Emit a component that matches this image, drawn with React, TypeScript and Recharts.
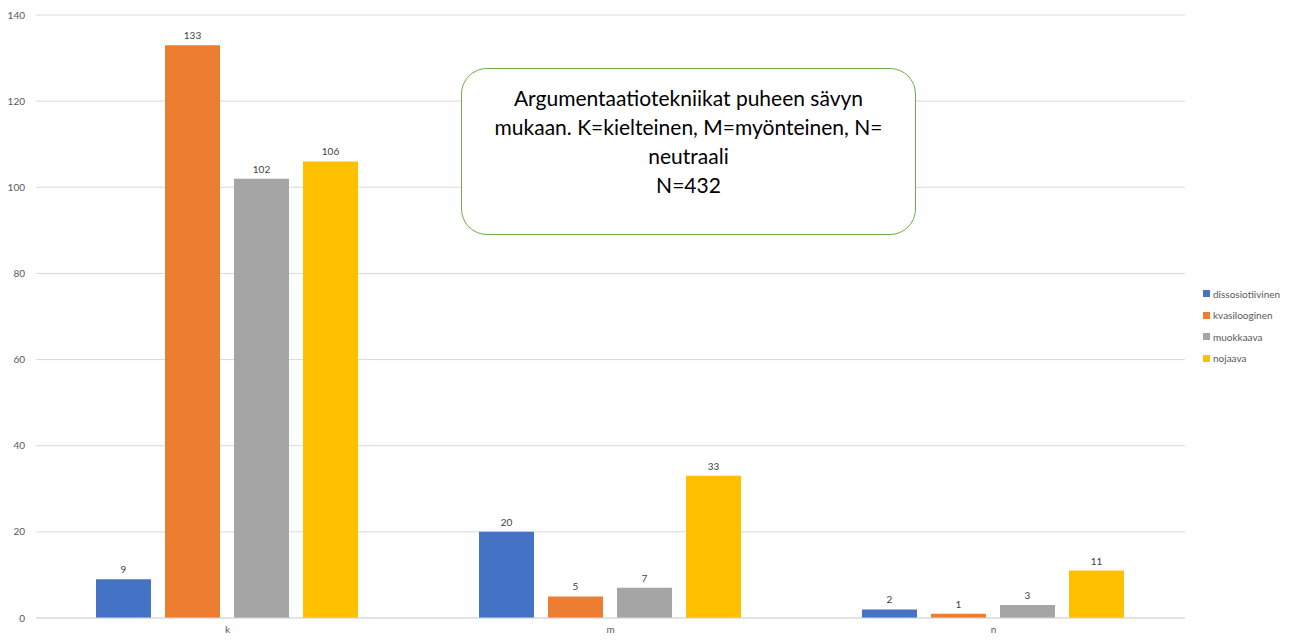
import { Bar, BarChart, CartesianGrid, LabelList, XAxis, YAxis } from 'recharts'

const categories = ['k', 'm', 'n']
const dissosiotiivinen = [9, 20, 2]
const kvasilooginen = [133, 5, 1]
const muokkaava = [102, 7, 3]
const nojaava = [106, 33, 11]
const yTicks = [0, 20, 40, 60, 80, 100, 120, 140]

const series = [
  { key: 'dissosiotiivinen', color: '#4472C4' },
  { key: 'kvasilooginen', color: '#ED7D31' },
  { key: 'muokkaava', color: '#A5A5A5' },
  { key: 'nojaava', color: '#FFC000' },
]

const data = categories.map((name, i) => ({
  name,
  dissosiotiivinen: dissosiotiivinen[i],
  kvasilooginen: kvasilooginen[i],
  muokkaava: muokkaava[i],
  nojaava: nojaava[i],
}))

const font = 'Lato, "Open Sans", sans-serif'

// legend stacked at the right, drawn as an overlay so it takes no room from the plot
const SideLegend = () => (
  <div
    style={{
      position: 'absolute',
      left: 1203,
      top: 283,
      fontFamily: font,
      fontSize: 10,
      color: '#595959',
    }}
  >
    {series.map(s => (
      <div key={s.key} style={{ display: 'flex', alignItems: 'center', height: 21.5 }}>
        <span style={{ width: 7, height: 7, background: s.color, marginRight: 3, display: 'inline-block' }} />
        {s.key}
      </div>
    ))}
  </div>
)

export default function App() {
  return (
    <div style={{ position: 'absolute', left: 0, top: 0, width: 1293, height: 640, background: '#fff' }}>
      <BarChart
        width={1293}
        height={640}
        data={data}
        margin={{ top: 15, right: 108, left: 0, bottom: 0 }}
        barCategoryGap={60}
        barGap={14}
      >
        <CartesianGrid vertical={false} stroke="#d9d9d9" />
        <XAxis
          dataKey="name"
          height={22}
          tickLine={false}
          axisLine={{ stroke: '#d9d9d9' }}
          tick={{ fontSize: 10, fill: '#595959', fontFamily: font }}
        />
        <YAxis
          width={36}
          domain={[0, 140]}
          ticks={yTicks}
          axisLine={false}
          tickLine={false}
          tickMargin={5}
          tick={{ fontSize: 10, fill: '#595959', fontFamily: font }}
        />
        {series.map(s => (
          <Bar key={s.key} dataKey={s.key} fill={s.color} isAnimationActive={false}>
            <LabelList
              dataKey={s.key}
              position="top"
              offset={6}
              style={{ fontSize: 10, fill: '#404040', fontFamily: font }}
            />
          </Bar>
        ))}
      </BarChart>
      <SideLegend />
      <div
        style={{
          position: 'absolute',
          left: 461,
          top: 68,
          width: 455,
          height: 167,
          boxSizing: 'border-box',
          border: '1.5px solid #70AD47',
          borderRadius: 26,
          background: '#fff',
          fontFamily: font,
          fontSize: 21,
          lineHeight: '29px',
          color: '#000',
          textAlign: 'center',
          paddingTop: 14,
          paddingLeft: 24,
          paddingRight: 24,
        }}
      >
        Argumentaatiotekniikat puheen sävyn mukaan. K=kielteinen, M=myönteinen, N= neutraali
        <br />
        N=432
      </div>
    </div>
  )
}
